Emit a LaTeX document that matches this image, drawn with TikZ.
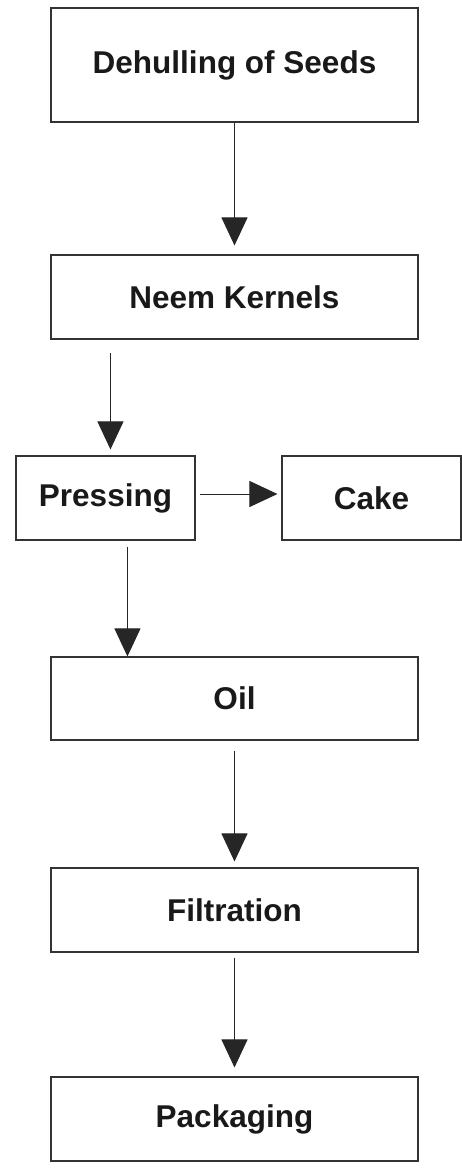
\documentclass[tikz,border=0pt]{standalone}
\usepackage{fontspec}
\setmainfont{Liberation Sans}
\usetikzlibrary{arrows.meta}
\begin{document}
\begin{tikzpicture}[x=1pt,y=-1pt,
  procbox/.style={draw=black!80, line width=1.1pt, rectangle, inner sep=0pt,
    font=\fontsize{31.5}{36}\selectfont\bfseries, text=black!90},
  wide/.style={procbox, minimum width=367pt, minimum height=84pt},
  narrow/.style={procbox, minimum width=179pt, minimum height=84pt},
  flow/.style={draw=black!85, line width=1pt, -{Triangle[width=26pt,length=28pt]}}]
\useasboundingbox (0,0) rectangle (462,1168);
\node[procbox, minimum width=367pt, minimum height=114pt] (b1) at (234.5,65) {Dehulling of Seeds};
\node[wide] (b2) at (234.5,297) {Neem Kernels};
\node[narrow] (b3) at (105.5,498) {Pressing};
\node[narrow] (b4) at (371.5,498) {Cake};
\node[wide, minimum height=83pt] (b5) at (234.5,698.5) {Oil};
\node[wide] (b6) at (234.5,910) {Filtration};
\node[wide] (b7) at (234.5,1119) {Packaging};
\draw[flow] (b1.south) -- ([yshift=9pt]b2.north);
\draw[flow] ([xshift=60pt,yshift=-13pt]b2.south west) -- ([xshift=95pt,yshift=6pt]b3.north west);
\draw[flow] ([xshift=4pt,yshift=4pt]b3.east) -- ([xshift=-4pt,yshift=4pt]b4.west);
\draw[flow] ([xshift=112pt,yshift=-6pt]b3.south west) -- ([xshift=77pt]b5.north west);
\draw[flow] ([yshift=-10pt]b5.south) -- ([yshift=6pt]b6.north);
\draw[flow] ([yshift=-5pt]b6.south) -- ([yshift=9pt]b7.north);
\end{tikzpicture}
\end{document}
